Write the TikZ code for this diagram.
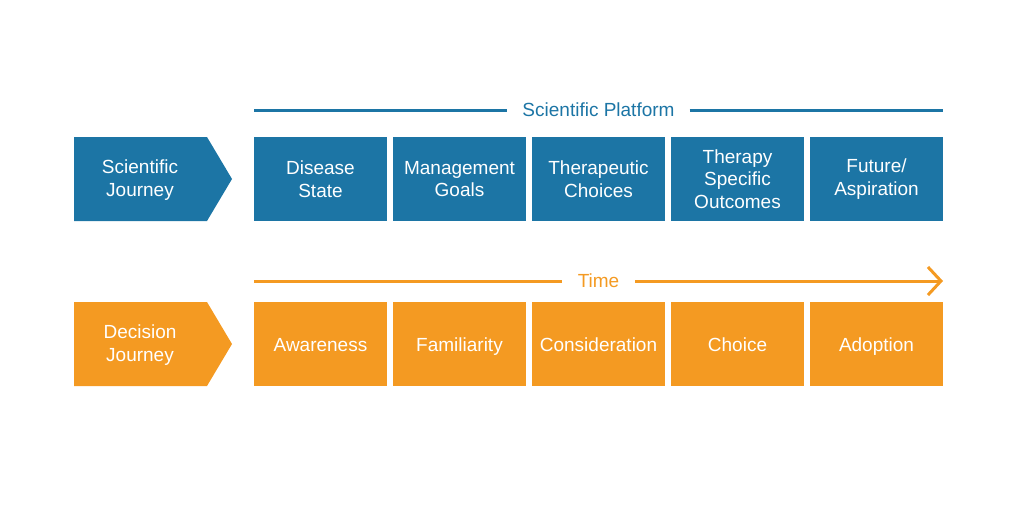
\documentclass[tikz,border=0pt]{standalone}
\usepackage{fontspec}
\setmainfont{Liberation Sans}
\usetikzlibrary{arrows.meta}
\definecolor{sciblue}{HTML}{1C75A5}
\definecolor{decorange}{HTML}{F49A22}
\tikzset{
  stage/.style = {minimum width=133pt, minimum height=84pt, inner sep=0pt, text=white, align=center, font=\fontsize{19}{22.5}\selectfont},
  onestage/.style = {stage, text height=13.5pt, text depth=4pt},
  band/.style = {line width=3pt}
}

\begin{document}
\begin{tikzpicture}[x=1pt, y=-1pt]
  \useasboundingbox (0,0) rectangle (1024,512);
  % scientific row
  \fill[sciblue] (74,137) -- (207,137) -- (232,179) -- (207,221) -- (74,221) -- cycle;
  \node[text=white, align=center, font=\fontsize{19}{22.5}\selectfont] (sj) at (140,180) {Scientific\\Journey};
  \node[stage, fill=sciblue] (ds) at (320.5,179) {Disease\\State};
  \node[stage, fill=sciblue] (mg) at (459.5,179) {Management\\Goals};
  \node[stage, fill=sciblue] (tc) at (598.5,179) {Therapeutic\\Choices};
  \node[stage, fill=sciblue] (ts) at (737.5,179) {Therapy\\Specific\\Outcomes};
  \node[stage, fill=sciblue] (fa) at (876.5,179) {Future/\\Aspiration};
  \coordinate (sl) at (254,110);
  \coordinate (sr) at (943,110);
  \node[text=sciblue, font=\fontsize{19}{22}\selectfont, inner xsep=15pt] (sp) at (598.5,110) {Scientific Platform};
  \draw[band, sciblue] (sl) -- (sp.west);
  \draw[band, sciblue] (sp.east) -- (sr);
  % decision row
  \fill[decorange] (74,302) -- (207,302) -- (232,344) -- (207,386) -- (74,386) -- cycle;
  \node[text=white, align=center, font=\fontsize{19}{22.5}\selectfont] (dj) at (140,345) {Decision\\Journey};
  \node[onestage, fill=decorange] (aw) at (320.5,344) {\raisebox{-3pt}{Awareness}};
  \node[onestage, fill=decorange] (fm) at (459.5,344) {\raisebox{-3pt}{Familiarity}};
  \node[onestage, fill=decorange] (cn) at (598.5,344) {\raisebox{-3pt}{Consideration}};
  \node[onestage, fill=decorange] (ch) at (737.5,344) {\raisebox{-3pt}{Choice}};
  \node[onestage, fill=decorange] (ad) at (876.5,344) {\raisebox{-3pt}{Adoption}};
  \coordinate (tl) at (254,281);
  \coordinate (tr) at (943,281);
  \node[text=decorange, font=\fontsize{19}{22}\selectfont, inner xsep=16pt] (tm) at (598.5,281) {Time};
  \draw[band, decorange] (tl) -- (tm.west);
  \draw[band, decorange, -{Straight Barb[length=13pt, width=28pt]}] (tm.east) -- (tr);
\end{tikzpicture}
\end{document}
